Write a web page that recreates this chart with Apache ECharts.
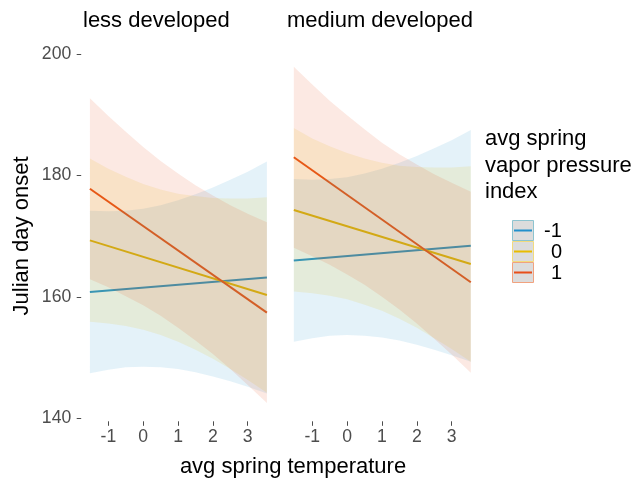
<!DOCTYPE html>
<html>
<head>
<meta charset="utf-8">
<script src="https://cdn.jsdelivr.net/npm/echarts@6/dist/echarts.min.js"></script>
<style>html,body{margin:0;padding:0;background:#fff;}#c{width:634px;height:481px;}</style>
</head>
<body>
<div id="c"></div>
<script>
// ---- data ----
const panels = ['less developed', 'medium developed'];
const groups = ['-1', '0', '1'];
const xTicks = [-1, 0, 1, 2, 3];
const yTicks = [140, 160, 180, 200];

const lineX = [-1.53, 3.55];
const lessBlueLine = [160.8, 163.2];
const lessYellowLine = [169.3, 160.3];
const lessRedLine = [177.8, 157.4];
const medBlueLine = [166.0, 168.4];
const medYellowLine = [174.3, 165.4];
const medRedLine = [183.0, 162.4];

const bandX = [-1.53, -1, -0.5, 0, 0.5, 1, 1.5, 2, 2.5, 3, 3.55];
const lessBlueLower = [147.4, 148.0, 148.4, 148.5, 148.4, 148.1, 147.6, 146.9, 146.1, 145.2, 144.1];
const lessBlueUpper = [174.2, 174.1, 174.2, 174.5, 175.1, 175.9, 176.9, 178.0, 179.3, 180.6, 182.3];
const lessYellowLower = [155.9, 155.6, 155.2, 154.6, 153.7, 152.6, 151.3, 149.8, 148.1, 146.3, 144.2];
const lessYellowUpper = [182.8, 181.1, 179.8, 178.6, 177.7, 177.0, 176.6, 176.3, 176.2, 176.2, 176.4];
const lessRedLower = [162.9, 161.6, 160.1, 158.6, 156.9, 154.9, 152.8, 150.6, 148.1, 145.5, 142.5];
const lessRedUpper = [192.7, 189.8, 187.2, 184.7, 182.4, 180.3, 178.4, 176.7, 175.1, 173.7, 172.3];
const medBlueLower = [152.6, 153.2, 153.6, 153.7, 153.6, 153.3, 152.8, 152.1, 151.3, 150.4, 149.3];
const medBlueUpper = [179.4, 179.3, 179.4, 179.7, 180.3, 181.1, 182.1, 183.2, 184.5, 185.8, 187.5];
const medYellowLower = [160.9, 160.6, 160.2, 159.6, 158.7, 157.7, 156.4, 154.9, 153.2, 151.4, 149.3];
const medYellowUpper = [187.8, 186.1, 184.8, 183.7, 182.8, 182.1, 181.6, 181.4, 181.3, 181.3, 181.5];
const medRedLower = [168.1, 166.7, 165.3, 163.7, 162.0, 160.0, 157.9, 155.6, 153.1, 150.5, 147.5];
const medRedUpper = [197.9, 195.0, 192.3, 189.9, 187.6, 185.4, 183.5, 181.8, 180.2, 178.8, 177.3];

// ---- styling ----
const colors = ['#2290CC', '#E8BC00', '#E84E1A'];
const keyBorders = ['#8DC4D0', '#F2DB7E', '#F1A27F'];
const FONT = 'Liberation Sans, Arial, sans-serif';
const bandOpacity = 0.12;

const lines = [[lessBlueLine, lessYellowLine, lessRedLine], [medBlueLine, medYellowLine, medRedLine]];
const bands = [
  [[lessBlueLower, lessBlueUpper], [lessYellowLower, lessYellowUpper], [lessRedLower, lessRedUpper]],
  [[medBlueLower, medBlueUpper], [medYellowLower, medYellowUpper], [medRedLower, medRedUpper]]
];

function bandSeries(p, g) {
  const lo = bands[p][g][0], hi = bands[p][g][1];
  const data = bandX.map((x, i) => [x, lo[i], hi[i]]);
  return {
    type: 'custom', xAxisIndex: p, yAxisIndex: p, data: data, z: 3, silent: true, clip: true,
    encode: { x: 0, y: [1, 2] },
    renderItem: function (params, api) {
      if (params.dataIndex !== 0) return null;
      const pts = [];
      for (let i = 0; i < data.length; i++) pts.push(api.coord([data[i][0], data[i][1]]));
      for (let i = data.length - 1; i >= 0; i--) pts.push(api.coord([data[i][0], data[i][2]]));
      return { type: 'polygon', shape: { points: pts }, style: { fill: colors[g], opacity: bandOpacity } };
    }
  };
}
function lineSeries(p, g) {
  return {
    type: 'line', xAxisIndex: p, yAxisIndex: p, z: 2, silent: true, symbol: 'none',
    data: lineX.map((x, i) => [x, lines[p][g][i]]),
    lineStyle: { color: colors[g], width: 2 }
  };
}

const series = [];
for (let p = 0; p < 2; p++) for (let g = 0; g < 3; g++) series.push(lineSeries(p, g));
for (let p = 0; p < 2; p++) for (let g = 0; g < 3; g++) series.push(bandSeries(p, g));

const gridLefts = [81.2, 285.1];
const xAxes = gridLefts.map((l, i) => ({
  type: 'value', gridIndex: i, min: -1.78, max: 3.80, splitLine: { show: false },
  axisLine: { show: false, onZero: false },
  axisTick: { show: true, customValues: xTicks, length: 4.5, lineStyle: { color: '#4D4D4D', width: 1 } },
  axisLabel: { customValues: xTicks, color: '#4D4D4D', fontSize: 17.6, fontFamily: FONT, margin: 7 }
}));
const yAxes = gridLefts.map((l, i) => ({
  type: 'value', gridIndex: i, min: 139.5, max: 200.5, splitLine: { show: false },
  axisLine: { show: false, onZero: false },
  axisTick: { show: i === 0, customValues: yTicks, length: 4.5, lineStyle: { color: '#4D4D4D', width: 1 } },
  axisLabel: { show: i === 0, customValues: yTicks, color: '#4D4D4D', fontSize: 17.6, fontFamily: FONT, margin: 10 }
}));

const graphic = [];
graphic.push({ type: 'text', left: 83, top: 10, style: { text: panels[0], font: '22px ' + FONT, fill: '#000' } });
graphic.push({ type: 'text', left: 287, top: 10, style: { text: panels[1], font: '22px ' + FONT, fill: '#000' } });
graphic.push({ type: 'text', x: 293, y: 467, style: { text: 'avg spring temperature', font: '22px ' + FONT, fill: '#000', align: 'center', verticalAlign: 'middle' } });
graphic.push({ type: 'text', x: 22, y: 236, rotation: Math.PI / 2, style: { text: 'Julian day onset', font: '22px ' + FONT, fill: '#000', align: 'center', verticalAlign: 'middle' } });
const titleLines = ['avg spring', 'vapor pressure', 'index'];
titleLines.forEach((t, i) => graphic.push({ type: 'text', x: 485, y: 139 + i * 26.5, style: { text: t, font: '22px ' + FONT, fill: '#000', verticalAlign: 'middle' } }));
const labelX = [544, 551, 551];
groups.forEach((t, i) => {
  const y0 = 220 + i * 21;
  graphic.push({ type: 'rect', shape: { x: 512.5, y: y0 + 0.5, width: 21, height: 20 }, style: { fill: '#DCDCDC', stroke: keyBorders[i], lineWidth: 1 } });
  graphic.push({ type: 'line', shape: { x1: 514, y1: y0 + 10.5, x2: 532, y2: y0 + 10.5 }, style: { stroke: colors[i], lineWidth: 2 } });
  graphic.push({ type: 'text', x: labelX[i], y: y0 + 11, style: { text: t, font: '20px ' + FONT, fill: '#000', verticalAlign: 'middle' } });
});

const chart = echarts.init(document.getElementById('c'), null, { renderer: 'canvas' });
chart.setOption({
  backgroundColor: '#fff',
  animation: false,
  grid: gridLefts.map(l => ({ left: l, top: 51, width: 194.4, height: 370.3 })),
  xAxis: xAxes,
  yAxis: yAxes,
  series: series,
  graphic: graphic
});
</script>
</body>
</html>
